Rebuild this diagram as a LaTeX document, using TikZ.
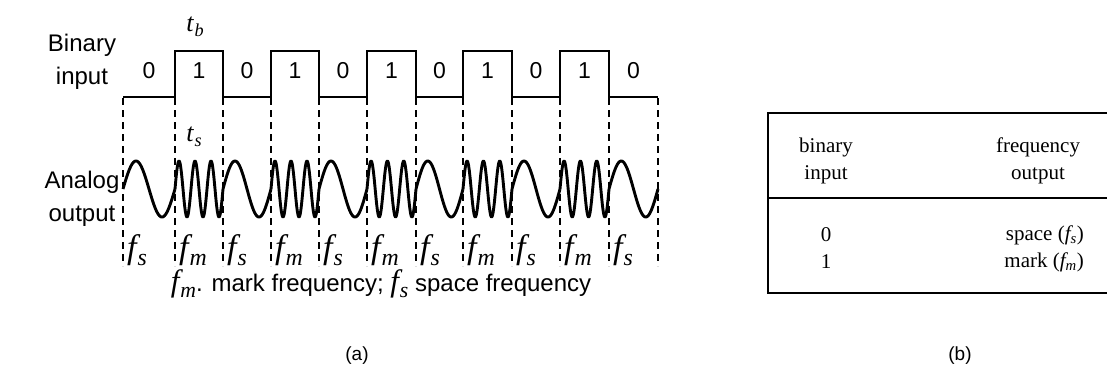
\documentclass[tikz,border=0pt]{standalone}
\usepackage{fontspec}
\setmainfont{Liberation Serif}
\setsansfont{Liberation Sans}
\newcommand\bigsub[3]{{\rmfamily\itshape\fontsize{#3}{#3}\selectfont #1\kern1pt\raisebox{-0.2em}{\fontsize{0.7\dimexpr#3pt\relax}{10}\selectfont #2}}}
\begin{document}
\begin{tikzpicture}[x=1pt,y=-1pt,
  sig/.style={line width=1.7pt, line join=miter},
  wave/.style={line width=2.9pt, line join=round},
  guide/.style={line width=1.1pt, dash pattern=on 7pt off 5pt},
  lbl/.style={font=\sffamily\fontsize{24}{33}\selectfont, inner sep=0pt},
  bit/.style={font=\sffamily\fontsize{23}{26}\selectfont, inner sep=0pt},
  flbl/.style={inner sep=0pt, anchor=west},
  tbl/.style={font=\rmfamily\fontsize{21}{27}\selectfont, inner sep=0pt, align=center},
  frame/.style={line width=1.5pt}]
\useasboundingbox (0,0) rectangle (1107,373);

% ---- labels (a)
\node[lbl, align=center] (bin) at (82,62) {Binary\\input};
\node[lbl, align=center] (ana) at (82,199) {Analog\\output};

% ---- binary input waveform
\draw[sig] (123,97) -- (175,97) -- (175,51) -- (223,51) -- (223,97) -- (271,97) -- (271,51) -- (319,51) -- (319,97)
  -- (367,97) -- (367,51) -- (416,51) -- (416,97) -- (463,97) -- (463,51) -- (512,51) -- (512,97)
  -- (560,97) -- (560,51) -- (609,51) -- (609,97) -- (658,97);

% ---- dashed guides
\foreach \xx in {123,175,223,271,319,367,416,463,512,560,609,658}
  \draw[guide] (\xx,98) -- (\xx,266);

% ---- bit values, analog output and frequency labels
\foreach \sa/\sb/\v/\nc/\fl in {123/175/0/1/s, 175/223/1/3/m, 223/271/0/1/s, 271/319/1/3/m, 319/367/0/1/s,
   367/416/1/3/m, 416/463/0/1/s, 463/512/1/3/m, 512/560/0/1/s, 560/609/1/3/m, 609/658/0/1/s} {
  \node[bit] (b\sa) at ({(\sa+\sb)/2},71) {\v};
  \draw[wave] plot[variable=\t, domain=0:1, samples=121] ({\sa+(\sb-\sa)*\t}, {189-28*sin(\nc*360*\t)});
  \node[flbl] (f\sa) at (\sa+4,250) {\bigsub{f}{\fl}{34}};
}

\node[inner sep=0pt] (tb) at (195,27) {\bigsub{t}{b}{26}};
\node[inner sep=0pt] (ts) at (194,137) {\bigsub{t}{s}{26}};

\node[font=\sffamily\fontsize{24}{26}\selectfont, inner sep=0pt] (cap) at (381,284)
  {\bigsub{f}{m}{31}. mark frequency; \bigsub{f}{s}{31} space frequency};
\node[font=\sffamily\fontsize{19}{22}\selectfont, inner sep=0pt] (capa) at (357,356) {(a)};

% ---- table (b)
\draw[frame] (1115,113) -- (768,113) -- (768,293) -- (1115,293);
\draw[frame] (768,198) -- (1115,198);
\node[tbl] (h1) at (826,161) {binary\\input};
\node[tbl] (h2) at (1038,161) {frequency\\output};
\node[tbl] (r1) at (826,235) {0};
\node[tbl] (r2) at (826,262) {1};
\node[tbl, anchor=east] (o1) at (1084,235) {space ({\itshape f\textsubscript{s}})};
\node[tbl, anchor=east] (o2) at (1084,262) {mark ({\itshape f\textsubscript{m}})};
\node[font=\sffamily\fontsize{19}{22}\selectfont, inner sep=0pt] (capb) at (960,356) {(b)};
\end{tikzpicture}
\end{document}
